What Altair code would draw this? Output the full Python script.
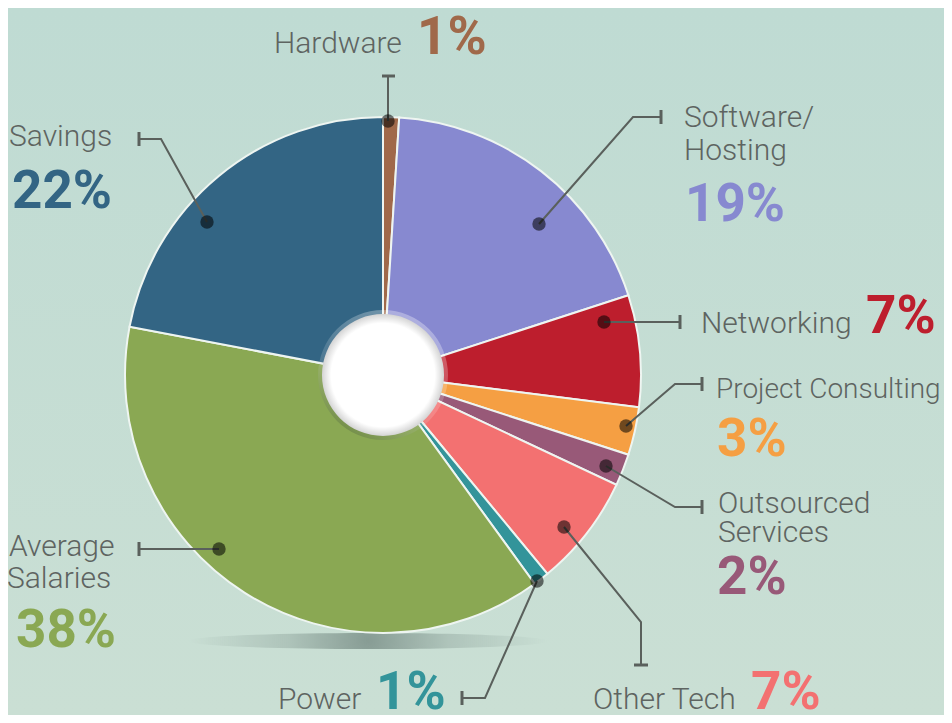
import altair as alt
import pandas as pd

# ---------------- data ----------------
categories = ["Hardware", "Software/Hosting", "Networking", "Project Consulting",
              "Outsourced Services", "Other Tech", "Power", "Average Salaries", "Savings"]
shares = [1, 19, 7, 3, 2, 7, 1, 38, 22]
slice_colors = ["#a0694a", "#8789d0", "#bd1e2d", "#f59f43", "#985978",
                "#f37171", "#33949a", "#8aa853", "#336584"]
pct_labels = [f"{v}%" for v in shares]

# ---------------- layout ----------------
W, H = 936, 707
OFF = 8                      # page margin (layout coords below are page px)
CX, CY = 383 - OFF, 375 - OFF
R_OUT = 258
R_HOLE = 61
NAME_COLOR = "#5e6461"
LINE_COLOR = "#5a605c"

# annotation layout: leader paths, caps, dots, text anchors (page px)
leader_paths = {
    "Hardware": [(388, 76), (388, 121)],
    "Savings": [(139, 139), (161, 139), (207, 222)],
    "Software/Hosting": [(661, 117), (633, 117), (539, 224)],
    "Networking": [(680, 322), (604, 322)],
    "Project Consulting": [(702, 384), (675, 384), (626, 426)],
    "Outsourced Services": [(606, 466), (675, 507), (702, 507)],
    "Other Tech": [(564, 527), (641, 622), (641, 665)],
    "Power": [(537, 581), (485, 698), (462, 698)],
    "Average Salaries": [(139, 549), (219, 549)],
}
caps = {  # x, y, x2, y2
    "Hardware": (382, 76, 395, 76),
    "Savings": (139, 132, 139, 146),
    "Software/Hosting": (661, 110, 661, 124),
    "Networking": (680, 315, 680, 329),
    "Project Consulting": (702, 377, 702, 391),
    "Outsourced Services": (702, 500, 702, 514),
    "Other Tech": (634, 665, 648, 665),
    "Power": (462, 691, 462, 705),
    "Average Salaries": (139, 542, 139, 556),
}
dots = {
    "Hardware": (388, 121), "Savings": (207, 222), "Software/Hosting": (539, 224),
    "Networking": (604, 322), "Project Consulting": (626, 426),
    "Outsourced Services": (606, 466), "Other Tech": (564, 527),
    "Power": (537, 581), "Average Salaries": (219, 549),
}
name_lines = {  # (text, x, baseline, font size)
    "Hardware": [("Hardware", 274, 53, 30)],
    "Savings": [("Savings", 9, 146, 30)],
    "Software/Hosting": [("Software/", 684, 127, 30), ("Hosting", 684, 160, 30)],
    "Networking": [("Networking", 701, 333, 30)],
    "Project Consulting": [("Project Consulting", 716, 398, 28)],
    "Outsourced Services": [("Outsourced", 718, 513, 30), ("Services", 718, 542, 30)],
    "Other Tech": [("Other Tech", 593, 709, 30)],
    "Power": [("Power", 278, 709, 30)],
    "Average Salaries": [("Average", 9, 556, 30), ("Salaries", 7, 588, 30)],
}
pct_pos = {
    "Hardware": (417, 54), "Savings": (12, 208), "Software/Hosting": (685, 221),
    "Networking": (866, 333), "Project Consulting": (717, 456),
    "Outsourced Services": (717, 594), "Other Tech": (751, 709),
    "Power": (376, 709), "Average Salaries": (16, 647),
}

# ---------------- tables ----------------
pie_df = pd.DataFrame({"category": categories, "share": shares,
                       "order": list(range(len(categories)))})

line_rows = []
for cat, pts in leader_paths.items():
    for i, (px, py) in enumerate(pts):
        line_rows.append({"seg": cat, "i": i, "x": px - OFF, "y": py - OFF})
line_df = pd.DataFrame(line_rows)

cap_df = pd.DataFrame([{"seg": c, "x": a - OFF, "y": b - OFF, "x2": c2 - OFF, "y2": d - OFF}
                       for c, (a, b, c2, d) in caps.items()])
dot_df = pd.DataFrame([{"seg": c, "x": a - OFF, "y": b - OFF} for c, (a, b) in dots.items()])

name_rows = []
for cat, lines in name_lines.items():
    for t, px, py, fs in lines:
        name_rows.append({"text": t, "x": px - OFF, "y": py - OFF, "fs": fs})
name_df = pd.DataFrame(name_rows)

pct_df = pd.DataFrame([{"text": pct_labels[k], "color": slice_colors[k],
                        "x": pct_pos[cat][0] - OFF, "y": pct_pos[cat][1] - OFF}
                       for k, cat in enumerate(categories)])

one = pd.DataFrame({"a": [0]})

# ---------------- layers ----------------
bg = alt.Chart(one).mark_rect(
    fill=alt.LinearGradient(gradient="linear", x1=0, y1=0, x2=0, y2=1,
                            stops=[alt.GradientStop(offset=0, color="#bfdbd3"),
                                   alt.GradientStop(offset=1, color="#cadfd4")])
).encode(x=alt.value(0), x2=alt.value(W), y=alt.value(0), y2=alt.value(H))

shadow = alt.Chart(one).mark_point(
    shape="M-1,0A1,0.045,0,1,1,1,0A1,0.045,0,1,1,-1,0Z",
    size=360 * 360,
    filled=True, strokeWidth=0, opacity=1,
    fill=alt.RadialGradient(gradient="radial", x1=0.5, y1=0.5, r1=0, x2=0.5, y2=0.5, r2=0.5,
                            stops=[alt.GradientStop(offset=0, color="rgba(70,90,85,0.5)"),
                                   alt.GradientStop(offset=0.45, color="rgba(70,90,85,0.2)"),
                                   alt.GradientStop(offset=1, color="rgba(70,90,85,0)")])
).encode(x=alt.value(368 - OFF), y=alt.value(641 - OFF))

pie = alt.Chart(pie_df).mark_arc(outerRadius=R_OUT, stroke="#eef5f1", strokeWidth=2).encode(
    theta=alt.Theta("share:Q", stack=True),
    order=alt.Order("order:Q"),
    color=alt.Color("category:N", scale=alt.Scale(domain=categories, range=slice_colors),
                    legend=None),
    x=alt.value(CX), y=alt.value(CY),
)

ring = alt.Chart(one).mark_arc(
    innerRadius=R_HOLE - 1, outerRadius=R_HOLE + 4, theta=0, theta2=6.2832,
    fill=alt.LinearGradient(gradient="linear", x1=0.8, y1=0, x2=0.2, y2=1,
                            stops=[alt.GradientStop(offset=0, color="rgba(255,255,255,0.35)"),
                                   alt.GradientStop(offset=0.55, color="rgba(255,255,255,0.15)"),
                                   alt.GradientStop(offset=1, color="rgba(30,50,20,0.3)")])
).encode(x=alt.value(CX), y=alt.value(CY))

disc = alt.Chart(one).mark_arc(
    innerRadius=0, outerRadius=R_HOLE, theta=0, theta2=6.2832,
    fill=alt.RadialGradient(gradient="radial", x1=0.5, y1=0.5, r1=0, x2=0.5, y2=0.5, r2=0.5,
                            stops=[alt.GradientStop(offset=0, color="#ffffff"),
                                   alt.GradientStop(offset=0.85, color="#ffffff"),
                                   alt.GradientStop(offset=1, color="#d4d4d4")])
).encode(x=alt.value(CX), y=alt.value(CY))

leaders = alt.Chart(line_df).mark_line(color=LINE_COLOR, strokeWidth=2).encode(
    x=alt.X("x:Q", scale=None), y=alt.Y("y:Q", scale=None),
    detail="seg:N", order="i:Q")

cap_marks = alt.Chart(cap_df).mark_rule(color=LINE_COLOR, strokeWidth=3).encode(
    x=alt.X("x:Q", scale=None), y=alt.Y("y:Q", scale=None),
    x2="x2:Q", y2="y2:Q")

dot_marks = alt.Chart(dot_df).mark_circle(size=180, color="#000000", opacity=0.55).encode(
    x=alt.X("x:Q", scale=None), y=alt.Y("y:Q", scale=None))

names = alt.Chart(name_df).mark_text(
    align="left", baseline="alphabetic", font="Roboto", fontWeight=300,
    color=NAME_COLOR
).encode(x=alt.X("x:Q", scale=None), y=alt.Y("y:Q", scale=None), text="text:N",
         size=alt.Size("fs:Q", scale=None))

pcts = alt.Chart(pct_df).mark_text(
    align="left", baseline="alphabetic", font="Roboto", fontSize=53, fontWeight="bold"
).encode(x=alt.X("x:Q", scale=None), y=alt.Y("y:Q", scale=None), text="text:N",
         color=alt.Color("color:N", scale=None))

chart = alt.layer(bg, shadow, pie, ring, disc, leaders, cap_marks, dot_marks, names, pcts).properties(
    width=W, height=H, autosize=alt.AutoSizeParams(type="none"), padding=0,
    background="#c4ddd5"
).configure_view(stroke=None)

chart.save("out.html", embed_options={"renderer": "svg", "actions": False})
